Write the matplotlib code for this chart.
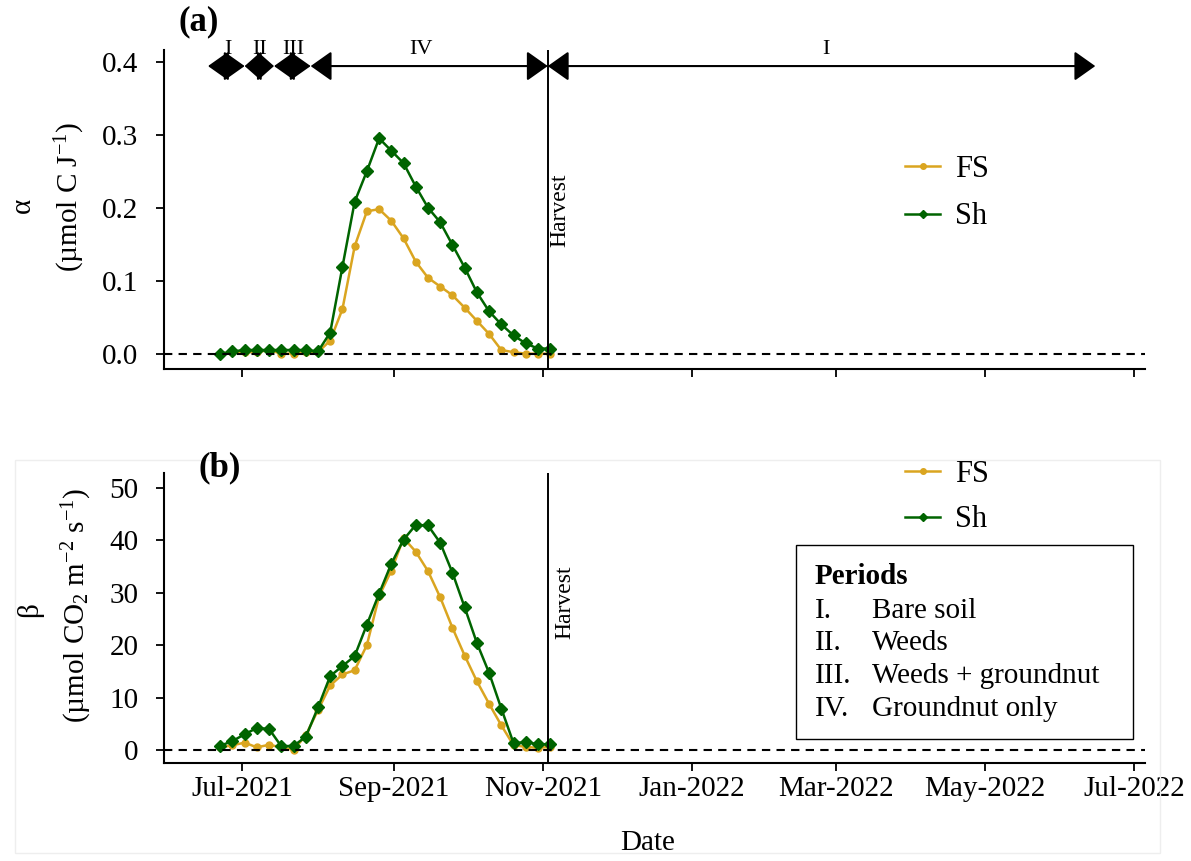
import datetime as dt
import matplotlib
matplotlib.use('Agg')
import matplotlib.pyplot as plt
import matplotlib.dates as mdates
from matplotlib.lines import Line2D
from matplotlib.patches import Rectangle

plt.rcParams['font.family'] = ['Liberation Serif', 'DejaVu Serif']
plt.rcParams['mathtext.fontset'] = 'custom'
plt.rcParams['mathtext.rm'] = 'Liberation Serif'
plt.rcParams['mathtext.it'] = 'Liberation Serif:italic'
plt.rcParams['mathtext.bf'] = 'Liberation Serif:bold'

# sampling dates
date_str = ['2021-06-22', '2021-06-27', '2021-07-02', '2021-07-07', '2021-07-12',
            '2021-07-17', '2021-07-22', '2021-07-27', '2021-08-01', '2021-08-06',
            '2021-08-11', '2021-08-16', '2021-08-21', '2021-08-26', '2021-08-31',
            '2021-09-05', '2021-09-10', '2021-09-15', '2021-09-20', '2021-09-25',
            '2021-09-30', '2021-10-05', '2021-10-10', '2021-10-15', '2021-10-20',
            '2021-10-25', '2021-10-30', '2021-11-04']
dates = [dt.datetime.strptime(d, '%Y-%m-%d') for d in date_str]

alpha_fs = [0.0, 0.002, 0.002, 0.002, 0.005, 0.0, 0.0, 0.002, 0.002, 0.018,
            0.061, 0.147, 0.195, 0.198, 0.182, 0.158, 0.126, 0.104, 0.092, 0.080,
            0.063, 0.045, 0.027, 0.005, 0.002, 0.0, 0.0, 0.0]
alpha_sh = [0.0, 0.003, 0.005, 0.005, 0.005, 0.005, 0.005, 0.005, 0.003, 0.029,
            0.119, 0.208, 0.250, 0.295, 0.278, 0.261, 0.229, 0.200, 0.180, 0.149,
            0.118, 0.084, 0.058, 0.040, 0.025, 0.014, 0.007, 0.007]
beta_fs = [0.5, 0.9, 1.4, 0.5, 1.0, 0.5, 0.0, 2.8, 7.6, 12.3,
           14.4, 15.2, 20.0, 29.3, 34.2, 40.4, 37.8, 34.1, 29.1, 23.3,
           18.0, 13.1, 8.8, 4.7, 0.9, 0.6, 0.4, 0.6]
beta_sh = [0.8, 1.7, 3.0, 4.2, 4.0, 0.7, 0.8, 2.5, 8.1, 14.1,
           16.0, 17.9, 23.9, 29.8, 35.5, 40.1, 42.9, 42.8, 39.5, 33.8,
           27.2, 20.4, 14.7, 7.9, 1.3, 1.5, 1.1, 1.1]

harvest = dt.datetime(2021, 11, 3)

period_names = ['I', 'II', 'III', 'IV', 'I']
period_start = [dt.datetime(2021, 6, 17), dt.datetime(2021, 7, 2), dt.datetime(2021, 7, 14),
                dt.datetime(2021, 7, 29), dt.datetime(2021, 11, 3)]
period_end = [dt.datetime(2021, 7, 2), dt.datetime(2021, 7, 14), dt.datetime(2021, 7, 29),
              dt.datetime(2021, 11, 3), dt.datetime(2022, 6, 15)]
period_label_at = [dt.datetime(2021, 6, 25), dt.datetime(2021, 7, 8), dt.datetime(2021, 7, 22),
                   dt.datetime(2021, 9, 12), dt.datetime(2022, 2, 25)]

period_keys = ['I.', 'II.', 'III.', 'IV.']
period_desc = ['Bare soil', 'Weeds', 'Weeds + groundnut', 'Groundnut only']

c_fs = '#DAA520'
c_sh = '#006400'
FS = 21

W, H = 1191, 861
fig = plt.figure(figsize=(W / 100, H / 100), dpi=100)


def px_axes(left, top, right, bottom):
    return fig.add_axes([left / W, 1 - bottom / H, (right - left) / W, (bottom - top) / H])


def ftext(x, y, s, **kw):
    return fig.text(x / W, 1 - y / H, s, **kw)


ax1 = px_axes(164, 50, 1145, 369)
ax2 = px_axes(164, 473, 1145, 763)

for ax, fs, sh in [(ax1, alpha_fs, alpha_sh), (ax2, beta_fs, beta_sh)]:
    ax.plot(dates, fs, color=c_fs, lw=1.8, marker='o', ms=5)
    ax.plot(dates, sh, color=c_sh, lw=1.8, marker='D', ms=6.5)
    ax.axhline(0, color='black', lw=1.5, ls=(0, (4, 3)))
    ax.axvline(harvest, color='black', lw=1.4)
    ax.spines['top'].set_visible(False)
    ax.spines['right'].set_visible(False)
    ax.spines['left'].set_linewidth(1.5)
    ax.spines['bottom'].set_linewidth(1.5)
    ax.set_xlim(dt.datetime(2021, 5, 30), dt.datetime(2022, 7, 5, 8))
    ax.xaxis.set_major_locator(mdates.MonthLocator(bymonth=[1, 3, 5, 7, 9, 11]))
    ax.xaxis.set_major_formatter(mdates.DateFormatter('%b-%Y'))
    ax.tick_params(direction='out', length=5.5, width=1.3, labelsize=FS)
    ax.tick_params(axis='y', pad=13)
    ax.tick_params(axis='x', pad=4)

ax1.set_ylim(-0.021, 0.416)
ax1.set_yticks([0.0, 0.1, 0.2, 0.3, 0.4])
ax1.set_yticklabels(['0.0', '0.1', '0.2', '0.3', '0.4'])
ax1.tick_params(labelbottom=False)

ax2.set_ylim(-2.48, 52.8)
ax2.set_yticks([0, 10, 20, 30, 40, 50])

# period arrows
for name, s, e, lab in zip(period_names, period_start, period_end, period_label_at):
    hl = 0.65 if (e - s).days > 13 else 0.52
    ax1.annotate('', xy=(e, 0.394), xytext=(s, 0.394), annotation_clip=False,
                 arrowprops=dict(arrowstyle=f'<|-|>,head_length={hl},head_width=0.46',
                                 mutation_scale=20, lw=1.5, color='black',
                                 shrinkA=0, shrinkB=0))
    ax1.text(lab, 0.417, name, ha='center', va='center', fontsize=16, clip_on=False)

ftext(560, 210, 'Harvest', rotation=90, ha='center', va='center', fontsize=17)
ftext(565, 602, 'Harvest', rotation=90, ha='center', va='center', fontsize=17)

ftext(178, 22, '(a)', ha='left', va='center', fontsize=25, fontweight='bold')
ftext(199, 468, '(b)', ha='left', va='center', fontsize=25, fontweight='bold')

ftext(23, 205, 'α', rotation=90, ha='center', va='center', fontsize=FS)
ftext(70, 197, '(µmol C J$^{-1}$)', rotation=90, ha='center', va='center', fontsize=FS)
ftext(30, 610, 'β', rotation=90, ha='center', va='center', fontsize=FS)
ftext(77, 606, '(µmol CO$_2$ m$^{-2}$ s$^{-1}$)', rotation=90, ha='center', va='center',
      fontsize=FS)

ftext(648, 843, 'Date', ha='center', va='center', fontsize=FS)

handles = [Line2D([], [], color=c_fs, lw=1.8, marker='o', ms=4),
           Line2D([], [], color=c_sh, lw=1.8, marker='D', ms=4.5)]
for yc, sp in [(193, 0.62), (497, 0.55)]:
    fig.legend(handles, ['FS', 'Sh'], loc='center left', bbox_to_anchor=(905 / W, 1 - yc / H),
               frameon=False, fontsize=22, handlelength=1.15, handletextpad=0.5,
               labelspacing=sp, borderpad=0, borderaxespad=0)

# periods box
fig.patches.append(Rectangle((796 / W, 1 - 739 / H), (1133 - 796) / W, (739 - 545) / H,
                             transform=fig.transFigure, facecolor='white',
                             edgecolor='black', lw=1.0, zorder=2))
ftext(815, 577, 'Periods', ha='left', va='center', fontsize=FS, fontweight='bold', zorder=3)
for k, d, yy in zip(period_keys, period_desc, [611, 643, 676, 709]):
    ftext(815, yy, k, ha='left', va='center', fontsize=FS, zorder=3)
    ftext(872, yy, d, ha='left', va='center', fontsize=FS, zorder=3)

# faint frame of the lower panel
fig.patches.append(Rectangle((15 / W, 1 - 853 / H), (1160 - 15) / W, (853 - 460) / H,
                             transform=fig.transFigure, fill=False,
                             edgecolor='#eeeeee', lw=1.0, zorder=0))

fig.savefig('out.png', dpi=100)
